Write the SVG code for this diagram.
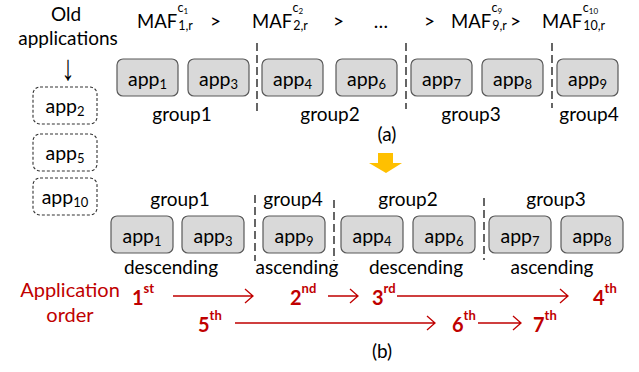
<svg xmlns="http://www.w3.org/2000/svg" width="639" height="372" viewBox="0 0 639 372">
<style>
text{font-family:Lato,"Liberation Sans",sans-serif;fill:#000}
.t{font-size:19px}
.mid{text-anchor:middle}
.box{fill:#d9d9d9;stroke:#595959;stroke-width:1.2}
.old{fill:#fff;stroke:#333;stroke-width:1.1;stroke-dasharray:3,2}
.app{font-size:19.5px;text-anchor:middle}
.sb{font-size:13px}
.sep{stroke:#000;stroke-width:1.2;stroke-dasharray:8,4;fill:none}
.red{fill:#c00000;font-size:20px}
.ord{font-size:20px;font-weight:bold;fill:#c00000}
.sup{font-size:13px}
.arr{stroke:#c00000;stroke-width:1.3;fill:none}
.maf{font-size:18.5px}
.ms{font-size:12.5px}
.mss{font-size:8px}
</style>

<g id="old-label">
<text class="t mid" x="66" y="21">Old</text>
<text class="t mid" x="68" y="45">applications</text>
<text transform="translate(68,80) scale(1.1,1.5)" x="0" y="0" style="font-family:'Liberation Sans',sans-serif;font-size:24px;text-anchor:middle">↓</text>
</g>

<g id="old-app2"><rect class="old" x="33" y="87" width="64" height="37" rx="7"/><text class="app" x="65" y="113">app<tspan class="sb" dy="3">2</tspan></text></g>
<g id="old-app5"><rect class="old" x="33" y="134" width="64" height="37" rx="7"/><text class="app" x="65" y="160">app<tspan class="sb" dy="3">5</tspan></text></g>
<g id="old-app10"><rect class="old" x="33" y="178" width="64" height="37" rx="7"/><text class="app" x="65" y="204">app<tspan class="sb" dy="3">10</tspan></text></g>

<g id="maf-row">
<text class="maf" x="137" y="28">MAF<tspan class="ms" dx="1" dy="2">1,r</tspan><tspan class="ms" dx="-15" dy="-18">c</tspan><tspan class="mss" dy="2">1</tspan></text>
<text class="t" x="210" y="28">&gt;</text>
<text class="maf" x="252" y="28">MAF<tspan class="ms" dx="1" dy="2">2,r</tspan><tspan class="ms" dx="-15" dy="-18">c</tspan><tspan class="mss" dy="2">2</tspan></text>
<text class="t" x="333" y="28">&gt;</text>
<text class="t mid" x="381" y="28">…</text>
<text class="t" x="424" y="28">&gt;</text>
<text class="maf" x="451" y="28">MAF<tspan class="ms" dx="1" dy="2">9,r</tspan><tspan class="ms" dx="-15" dy="-18">c</tspan><tspan class="mss" dy="2">9</tspan></text>
<text class="t" x="510" y="28">&gt;</text>
<text class="maf" x="542" y="28">MAF<tspan class="ms" dx="1" dy="2">10,r</tspan><tspan class="ms" dx="-22" dy="-18">c</tspan><tspan class="mss" dy="2">10</tspan></text>
</g>

<g id="top-app1"><rect class="box" x="117" y="59" width="61" height="37" rx="6"/><text class="app" x="147.5" y="86">app<tspan class="sb" dy="3">1</tspan></text></g>
<g id="top-app3"><rect class="box" x="188" y="59" width="61" height="37" rx="6"/><text class="app" x="218.5" y="86">app<tspan class="sb" dy="3">3</tspan></text></g>
<g id="top-app4"><rect class="box" x="262" y="59" width="61" height="37" rx="6"/><text class="app" x="292.5" y="86">app<tspan class="sb" dy="3">4</tspan></text></g>
<g id="top-app6"><rect class="box" x="336" y="59" width="61" height="37" rx="6"/><text class="app" x="366.5" y="86">app<tspan class="sb" dy="3">6</tspan></text></g>
<g id="top-app7"><rect class="box" x="411" y="59" width="61" height="37" rx="6"/><text class="app" x="441.5" y="86">app<tspan class="sb" dy="3">7</tspan></text></g>
<g id="top-app8"><rect class="box" x="482" y="59" width="61" height="37" rx="6"/><text class="app" x="512.5" y="86">app<tspan class="sb" dy="3">8</tspan></text></g>
<g id="top-app9"><rect class="box" x="557" y="59" width="61" height="37" rx="6"/><text class="app" x="587.5" y="86">app<tspan class="sb" dy="3">9</tspan></text></g>

<g id="top-labels">
<text class="t mid" x="182" y="121">group1</text>
<text class="t mid" x="330" y="121">group2</text>
<text class="t mid" x="471" y="121">group3</text>
<text class="t mid" x="589" y="121">group4</text>
<text class="t mid" x="387" y="141">(a)</text>
</g>

<g id="separators">
<line class="sep" x1="257" y1="43" x2="257" y2="113"/>
<line class="sep" x1="406" y1="43" x2="406" y2="109"/>
<line class="sep" x1="552" y1="43" x2="552" y2="108"/>
<line class="sep" x1="255" y1="195" x2="255" y2="261"/>
<line class="sep" x1="334" y1="200" x2="334" y2="261"/>
<line class="sep" x1="484" y1="198" x2="484" y2="260"/>
</g>

<g id="transition-arrow">
<polygon points="378,153 393,153 393,163 402,163 386,173 369,163 378,163" fill="#ffc000"/>
</g>

<g id="bottom-labels">
<text class="t mid" x="180" y="206">group1</text>
<text class="t mid" x="293" y="206">group4</text>
<text class="t mid" x="408" y="206">group2</text>
<text class="t mid" x="556" y="206">group3</text>
<text class="t mid" x="171" y="274">descending</text>
<text class="t mid" x="297" y="274">ascending</text>
<text class="t mid" x="416" y="274">descending</text>
<text class="t mid" x="552" y="274">ascending</text>
</g>

<g id="bot-app1"><rect class="box" x="111" y="216" width="62" height="37" rx="6"/><text class="app" x="142" y="243">app<tspan class="sb" dy="3">1</tspan></text></g>
<g id="bot-app3"><rect class="box" x="182" y="216" width="62" height="37" rx="6"/><text class="app" x="213" y="243">app<tspan class="sb" dy="3">3</tspan></text></g>
<g id="bot-app9"><rect class="box" x="263" y="216" width="62" height="37" rx="6"/><text class="app" x="294" y="243">app<tspan class="sb" dy="3">9</tspan></text></g>
<g id="bot-app4"><rect class="box" x="341" y="216" width="62" height="37" rx="6"/><text class="app" x="372" y="243">app<tspan class="sb" dy="3">4</tspan></text></g>
<g id="bot-app6"><rect class="box" x="413" y="216" width="62" height="37" rx="6"/><text class="app" x="444" y="243">app<tspan class="sb" dy="3">6</tspan></text></g>
<g id="bot-app7"><rect class="box" x="489" y="216" width="62" height="37" rx="6"/><text class="app" x="520" y="243">app<tspan class="sb" dy="3">7</tspan></text></g>
<g id="bot-app8"><rect class="box" x="561" y="216" width="62" height="37" rx="6"/><text class="app" x="592" y="243">app<tspan class="sb" dy="3">8</tspan></text></g>

<g id="order-label">
<text class="mid red" x="70" y="297">Application</text>
<text class="mid red" x="70" y="322">order</text>
</g>

<g id="ordinals">
<text class="ord" x="132" y="305">1<tspan class="sup" dy="-12">st</tspan></text>
<text class="ord" x="290" y="305">2<tspan class="sup" dy="-12">nd</tspan></text>
<text class="ord" x="372" y="305">3<tspan class="sup" dy="-12">rd</tspan></text>
<text class="ord" x="593" y="305">4<tspan class="sup" dy="-12">th</tspan></text>
<text class="ord" x="198" y="332">5<tspan class="sup" dy="-12">th</tspan></text>
<text class="ord" x="452" y="332">6<tspan class="sup" dy="-12">th</tspan></text>
<text class="ord" x="533" y="332">7<tspan class="sup" dy="-12">th</tspan></text>
</g>

<g id="connectors">
<path class="arr" d="M173,296 H253 M245,289 L253,296 L245,303"/>
<path class="arr" d="M328,296 H358 M350,289 L358,296 L350,303"/>
<path class="arr" d="M397,296 H568 M560,289 L568,296 L560,303"/>
<path class="arr" d="M235,323 H435 M427,316 L435,323 L427,330"/>
<path class="arr" d="M478,323 H521 M513,316 L521,323 L513,330"/>
</g>

<text class="t mid" x="382" y="358">(b)</text>
</svg>
